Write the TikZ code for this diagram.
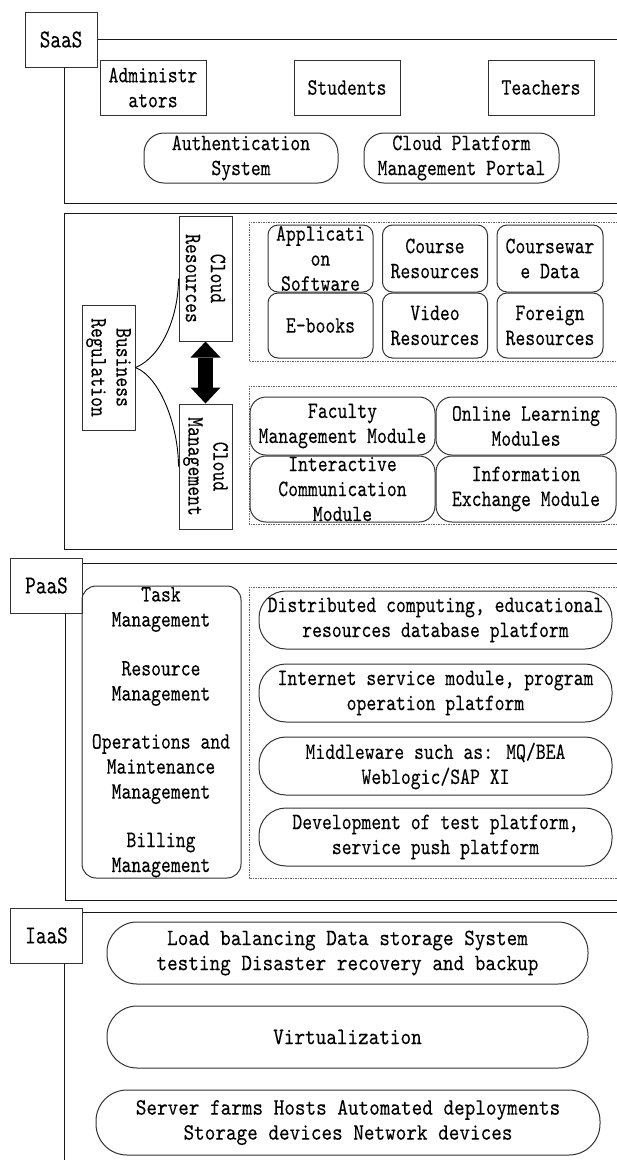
\documentclass[tikz,border=0pt]{standalone}
\usepackage{fontspec}
\newfontfamily\dmono[FakeStretch=0.80,FakeBold=0.12]{lmmono10-regular.otf}
\newfontfamily\dmonob[FakeStretch=0.86,FakeBold=0.12]{lmmono10-regular.otf}
\newfontfamily\dmonol[FakeStretch=0.78,FakeBold=0.12]{lmmono10-regular.otf}
\usetikzlibrary{arrows.meta}
\newcommand\txtn{\dmono\fontsize{23.5}{25}\selectfont}
\newcommand\txtb{\dmonob\fontsize{23.5}{25}\selectfont}
\newcommand\txtl{\dmonol\fontsize{26}{26}\selectfont}
\begin{document}
\begin{tikzpicture}[x=1pt,y=-1pt,
  frame/.style={draw=black!90, line width=1pt},
  box/.style={draw=black!80, line width=1pt, inner sep=0pt, align=center, font=\txtn},
  lbl/.style={box, font=\txtl, minimum width=72pt, minimum height=55pt},
  rbox/.style={box, rounded corners=#1},
  plain/.style={inner sep=0pt, align=center, font=\txtn},
  dashbox/.style={draw=black!60, line width=0.8pt, dash pattern=on 1.5pt off 1pt},
  curve/.style={draw=black, line width=0.9pt}
]
\useasboundingbox (0,0) rectangle (617,1160);
\fill[white] (0,0) rectangle (617,1160);

% ---------------- SaaS ----------------
\node[lbl] (saas) at (61,39.5) {SaaS};
\draw[frame] (saas.east |- 0,39) -- (617,39);
\draw[frame] (64,67) -- (64,203) -- (617,203);

\node[box, minimum width=106pt, minimum height=55pt] (adm) at (153,87.5) {Administr\\ators};
\node[box, minimum width=106pt, minimum height=55pt] (stu) at (347,87.5) {Students};
\node[box, minimum width=106pt, minimum height=55pt] (tea) at (541,87.5) {Teachers};
\node[rbox=20pt, minimum width=194pt, minimum height=50pt] (auth) at (241,158) {Authentication\\System};
\node[rbox=20pt, minimum width=195pt, minimum height=50pt] (portal) at (461.5,158) {Cloud Platform\\Management Portal};

% ---------------- Cloud layer ----------------
\draw[frame] (617,213) -- (64,213) -- (64,549) -- (617,549);

% rotated nodes: local east = page bottom, local south = page left
\node[box, rotate=-90, minimum width=125pt, minimum height=53pt] (cr) at (205.5,278.5) {Cloud\\Resources};
\node[box, rotate=-90, minimum width=125pt, minimum height=53pt] (cm) at (205.5,466.5) {Cloud\\Management};
\node[box, rotate=-90, minimum width=125pt, minimum height=53pt] (br) at (108.5,367.5) {Business\\Regulation};

\draw[curve] (br.north) .. controls +(25,-10) and +(0,40) .. (cr.south);
\draw[curve] (br.north) .. controls +(25,10) and +(0,-40) .. (cm.south);
\draw[line width=15pt, {Triangle[width=30pt,length=16pt,line width=0pt]}-{Triangle[width=30pt,length=16pt,line width=0pt]}] (cr.east) -- (cm.west);

\draw[dashbox] (617,222) -- (249,222) -- (249,361) -- (617,361);
\node[rbox=10pt, minimum width=105pt, minimum height=67pt] (app) at (320.5,258.5) {Applicati\\on\\Software};
\node[rbox=10pt, minimum width=105pt, minimum height=67pt] (course) at (435,258.5) {Course\\Resources};
\node[rbox=10pt, minimum width=106pt, minimum height=67pt] (cware) at (550,258.5) {Coursewar\\e Data};
\node[rbox=10pt, minimum width=105pt, minimum height=65pt] (ebook) at (320.5,325.5) {E-books};
\node[rbox=10pt, minimum width=105pt, minimum height=65pt] (video) at (435,325.5) {Video\\Resources};
\node[rbox=10pt, minimum width=106pt, minimum height=65pt] (foreign) at (550,325.5) {Foreign\\Resources};

\draw[dashbox] (617,386) -- (249,386) -- (249,524) -- (617,524);
\node[rbox=16pt, minimum width=185pt, minimum height=58pt] (faculty) at (342.5,426) {Faculty\\Management Module};
\node[rbox=16pt, minimum width=180pt, minimum height=58pt] (online) at (526,426) {Online Learning\\Modules};
\node[rbox=16pt, minimum width=185pt, minimum height=66pt] (inter) at (342.5,489) {Interactive\\Communication\\Module};
\node[rbox=16pt, minimum width=180pt, minimum height=66pt] (info) at (526,489) {Information\\Exchange Module};

% ---------------- PaaS ----------------
\node[lbl] (paas) at (46.5,585.5) {PaaS};
\draw[frame] (paas.east |- 0,563) -- (617,563);
\draw[frame] (65,613) -- (65,900) -- (617,900);

\node[rbox=14pt, minimum width=159pt, minimum height=292pt] (mgmt) at (161.5,732) {};
\node[plain] (task) at (161,609.5) {Task\\Management};
\node[plain] (res) at (161,683.5) {Resource\\Management};
\node[plain] (ops) at (161,769) {Operations and\\Maintenance\\Management};
\node[plain] (bill) at (161,855) {Billing\\Management};

\draw[dashbox] (617,587) -- (249,587) -- (249,878) -- (617,878);
\node[rbox=27pt, minimum width=353pt, minimum height=58pt] (p1) at (435.5,620) {Distributed computing, educational\\resources database platform};
\node[rbox=27pt, minimum width=353pt, minimum height=58pt] (p2) at (435.5,693) {Internet service module, program\\operation platform};
\node[rbox=27pt, minimum width=353pt, minimum height=58pt] (p3) at (435.5,766) {Middleware such as: MQ/BEA\\Weblogic/SAP XI};
\node[rbox=27pt, minimum width=353pt, minimum height=58pt] (p4) at (435.5,837) {Development of test platform,\\service push platform};

% ---------------- IaaS ----------------
\node[lbl] (iaas) at (46.5,935.5) {IaaS};
\draw[frame] (iaas.east |- 0,912) -- (617,912);
\draw[frame] (64,963) -- (64,1160);

\node[rbox=30pt, font=\txtb, minimum width=481pt, minimum height=62pt] (i1) at (347.5,953) {Load balancing Data storage System\\testing Disaster recovery and backup};
\node[rbox=30pt, font=\txtb, minimum width=481pt, minimum height=62pt] (i2) at (347.5,1037) {Virtualization};
\node[rbox=31pt, font=\txtb, minimum width=504pt, minimum height=65pt] (i3) at (348,1122.5) {Server farms Hosts Automated deployments\\Storage devices Network devices};
\end{tikzpicture}
\end{document}
